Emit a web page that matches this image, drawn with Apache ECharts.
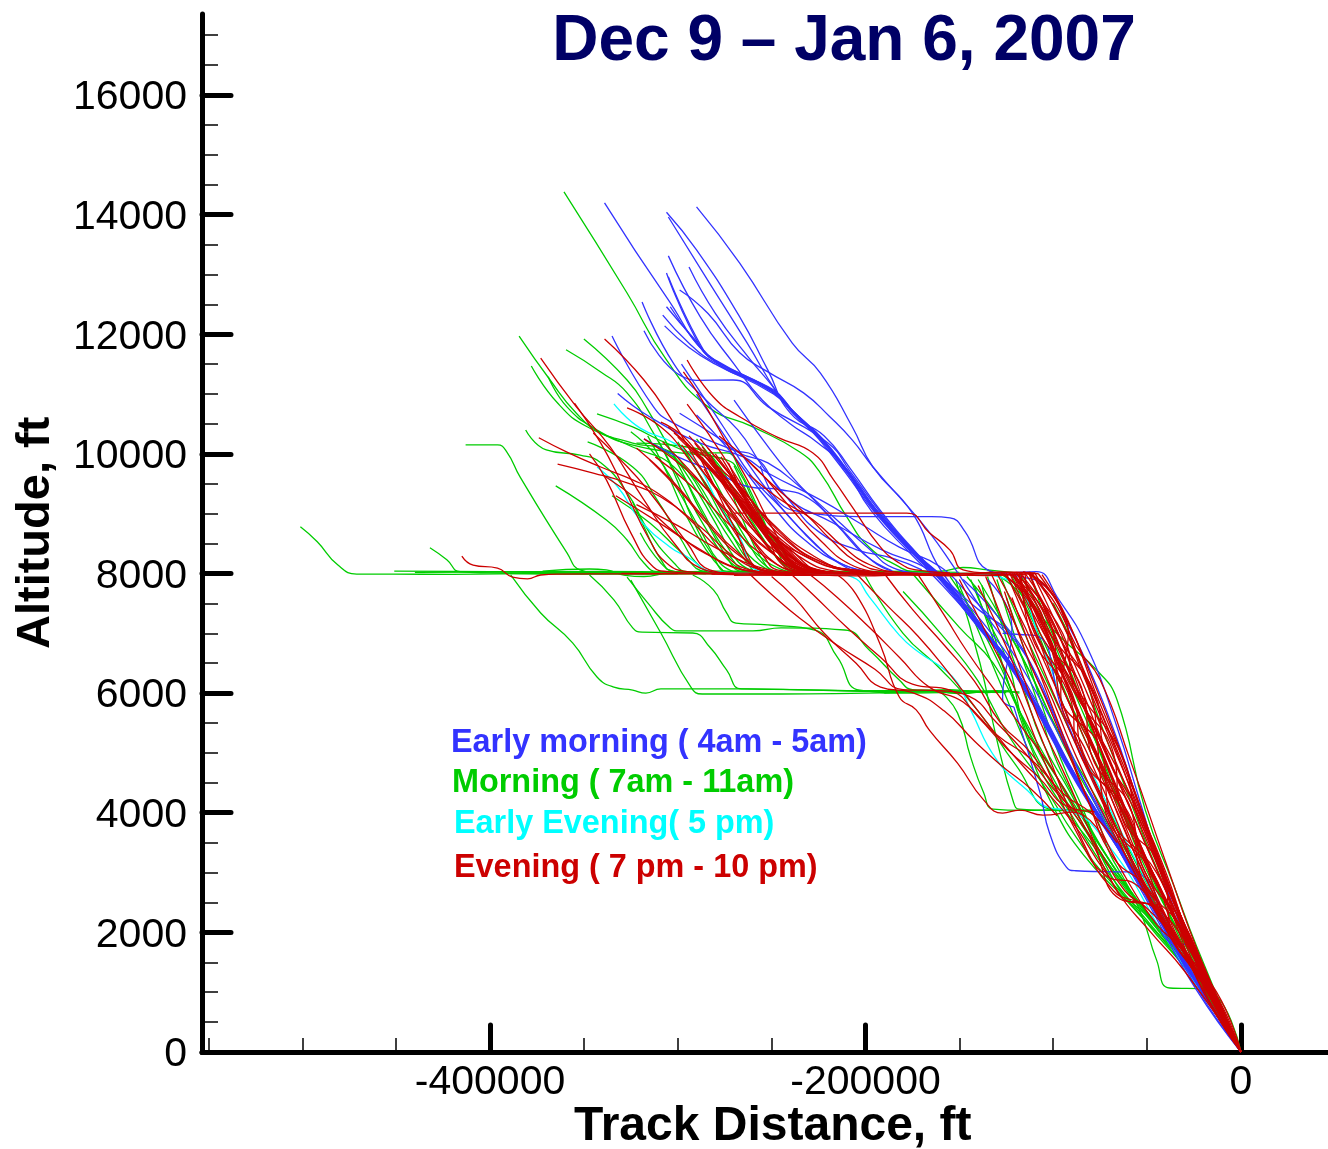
<!DOCTYPE html>
<html><head><meta charset="utf-8">
<style>html,body{margin:0;padding:0;background:#fff}#c{width:1328px;height:1149px}</style>
<script src="https://cdn.jsdelivr.net/npm/echarts@6/dist/echarts.min.js"></script>
</head><body><div id="c"></div>
<script>
// tracks: [distance in thousands of ft, altitude in ft]
const xMajorTicks=[-400000,-200000,0];
const xMinorTicks=[-550000,-500000,-450000,-350000,-300000,-250000,-150000,-100000,-50000];
const yMajorTicks=[0,2000,4000,6000,8000,10000,12000,14000,16000];
const yMinorTicks=[500,1000,1500,2500,3000,3500,4500,5000,5500,6500,7000,7500,8500,9000,9500,10500,11000,11500,12500,13000,13500,14500,15000,15500,16500,17000];
const legendLabels=["Early morning ( 4am - 5am)","Morning ( 7am - 11am)","Early Evening( 5 pm)","Evening ( 7 pm - 10 pm)"];

const blueTracks=[
[[-339,14195],[-306,12620],[-281,11570],[-249,11070],[-239,10730],[-224,10280],[-210,9730],[-194,9060],[-171,8280],[-159,7940],[-139,7140],[-119,6340],[-86,4500],[-57.5,3040],[-32.5,1620],[0,0]],
[[-290,14130],[-267,13190],[-239,11850],[-224,11350],[-207,10450],[-196,9780],[-175,9010],[-160,8060],[-138,7200],[-117,6300],[-85,4450],[-56,3000],[-31,1600],[0,0]],
[[-306,14040],[-290,13410],[-267,12290],[-252,11400],[-240,10680],[-222,10300],[-208,9750],[-192,9050],[-170,8250],[-158,7900],[-137,7080],[-118,6260],[-84,4400],[-58,3050],[-32,1580],[0,0]],
[[-305,13960],[-284,12900],[-263,11850],[-247,11020],[-238,10700],[-223,10260],[-209,9700],[-193,9000],[-169,8200],[-156,7820],[-136,7020],[-116,6180],[-87,4480],[-56,2980],[-30,1520],[0,0]],
[[-306,13025],[-288,11790],[-279,11550],[-250,11060],[-238,10690],[-225,10250],[-211,9700],[-195,9020],[-172,8240],[-160,7900],[-140,7120],[-120,6300],[-86,4440],[-57,3000],[-32,1580],[0,0]],
[[-305,12960],[-286,11720],[-278,11520],[-248,11030],[-237,10650],[-223,10220],[-209,9670],[-193,8980],[-170,8200],[-158,7860],[-138,7060],[-118,6240],[-85,4380],[-58,3020],[-33,1620],[0,0]],
[[-305,13310],[-288,12290],[-270,11500],[-255,10900],[-240,10500],[-226,10200],[-212,9800],[-197,9050],[-175,8300],[-162,7900],[-141,7160],[-121,6360],[-88,4560],[-59,3060],[-33,1640],[0,0]],
[[-294,13125],[-280,12350],[-262,11600],[-250,11150],[-238,10660],[-222,10180],[-207,9620],[-191,8930],[-168,8120],[-155,7750],[-135,7000],[-115,6120],[-83,4320],[-55,2940],[-30,1500],[0,0]],
[[-299,12740],[-284,12350],[-267,11690],[-252,11370],[-233,11020],[-219,10620],[-207,10230],[-196,9780],[-182,9280],[-167,8730],[-153,8110],[-138,7400],[-118,6500],[-90,4900],[-60,3200],[-34,1700],[0,0]],
[[-306,12460],[-292,11950],[-280,11560],[-250,11060],[-239,10720],[-224,10270],[-210,9720],[-194,9040],[-171,8260],[-159,7920],[-139,7120],[-119,6320],[-86,4480],[-57,3020],[-32,1600],[0,0]],
[[-304,12460],[-290,11850],[-279,11530],[-249,11040],[-238,10680],[-223,10230],[-209,9680],[-193,9000],[-170,8220],[-158,7880],[-138,7080],[-118,6280],[-85,4420],[-56,2980],[-31,1560],[0,0]],
[[-308,12320],[-294,11850],[-281,11540],[-250,11040],[-239,10700],[-224,10240],[-210,9690],[-194,9020],[-171,8230],[-160,7880],[-140,7100],[-120,6290],[-87,4460],[-58,3020],[-32,1590],[0,0]],
[[-307,12140],[-294,11780],[-280,11500],[-249,11000],[-238,10660],[-223,10210],[-209,9660],[-193,8970],[-170,8190],[-158,7850],[-137,7040],[-117,6220],[-84,4360],[-56,2960],[-31,1540],[0,0]],
[[-319,12540],[-302,11500],[-285,10900],[-268,10400],[-255,9800],[-240,9200],[-225,8700],[-205,8400],[-185,8250],[-170,8060]],
[[-318,12060],[-290,11230],[-270.5,11235],[-252,10790],[-220,10180],[-208,9700],[-192,9020],[-170,8220],[-158,7880]],
[[-335,11970],[-313,10790],[-302,10510],[-270,10060],[-260,9980],[-242,9280],[-217,8840],[-191,8390],[-166,8060],[-140,7400],[-122,6950],[-105,6000],[-92,5000]],
[[-332,11010],[-315,10620],[-288,10180],[-265,9950],[-252,9680],[-224,9230],[-203,8840],[-182,8440],[-160,8110],[-145,7650],[-125,7000]],
[[-299,10680],[-279,10280],[-267,10010],[-252,9850],[-235,9450],[-217,8945],[-199,8440],[-185,8090],[-170,8000]],
[[-318,10250],[-300,9950],[-280,9700],[-262,9450],[-245,9400],[-230,9250],[-215,8800],[-200,8300],[-186,8050]],
[[-290,11000],[-275,10300],[-260,9600],[-245,9100],[-230,8600],[-215,8200],[-200,8040]],
[[-298,11500],[-283,10800],[-265,9950],[-250,9300],[-235,8750],[-220,8300],[-207,8050]],
[[-270,10900],[-255,10250],[-240,9650],[-225,9150],[-210,8650],[-196,8200],[-185,8030]],
[[-290,10650],[-275,10150],[-250,9150],[-232,8550],[-212,8150],[-196,8020]],
[[-256,9800],[-238,9050],[-192,8950],[-165,8950],[-155,8930],[-147,8700],[-135,8060],[-125,8010],[-109,8030],[-98,7610],[-82,6770],[-66,5430],[-54,4210],[-38,2600],[-18,1100],[0,0]],
[[-134,8020],[-118,7950],[-104,7780],[-93,7200],[-78,6200],[-64,5050],[-50,3700],[-34,2350],[-16,1000],[0,0]],
[[-121,5770],[-107,4330],[-102,3660],[-93,3090],[-88,3030],[-74,3015],[-59,3010],[-31,1500],[0,0]],
[[-135,7900],[-122,7100],[-127,5900],[-121,5770]],
[[-127,7000],[-118,6980],[-108,6950],[-95,5700],[-75,4300],[-50,2700],[-26,1200],[0,0]],
[[-148,7900],[-130,7300],[-112,6500],[-92,5100],[-72,3800],[-47,2350],[-24,1050],[0,0]],
[[-43,2050],[-35,1800],[-28,1800],[-20,1200],[0,0]]
];

const greenTracks=[
[[-360.6,14380],[-327,12690],[-306,11570],[-284,10790],[-260,10450],[-235,10030],[-224,9680],[-210,8945],[-198,8440],[-182,8110],[-175,8030],[-150,8000],[-132,8000],[-118,7600],[-100,6400],[-78,5000],[-55,3500],[-28,1600],[0,0]],
[[-384.5,11970],[-368,11235],[-354,10680],[-341,10350],[-320,10115],[-302,10030],[-274,9900],[-267,9680],[-260,9230],[-247,8440],[-235,8060],[-220,8010]],
[[-378,11470],[-364,10850],[-348,10450],[-324,10180],[-306,10065],[-295,9730],[-281,9010],[-263,8175],[-256,8010],[-235,8000]],
[[-369,11290],[-359,10785],[-343,10400],[-324,10115],[-302,9780],[-288,9060],[-274,8280],[-265,8030],[-245,8010]],
[[-350,11920],[-327,11235],[-316,10735],[-302,9950],[-288,9115],[-272,8280],[-261,8030],[-240,8000]],
[[-359.5,11740],[-341,11370],[-327,11020],[-313,10350],[-302,9680],[-292,8895],[-281,8280],[-274,8030],[-255,8000]],
[[-343,10670],[-324,10450],[-306,10180],[-288,10015],[-274,10015],[-267,9730],[-256,9010],[-245.5,8280],[-239,8030],[-220,8010]],
[[-381,10400],[-370,10065],[-352,9980],[-341,9850],[-327,9350],[-315,8680],[-302,8175],[-295,8030],[-275,8000]],
[[-413,10150],[-396,10150],[-391,10030],[-384,9615],[-359,8345],[-352,8060],[-341,8010],[-318,8000]],
[[-365,9465],[-338,8895],[-327,8560],[-318,8175],[-311,8030],[-290,8000]],
[[-348,10200],[-324,9780],[-311,9230],[-299,8610],[-288,8110],[-278,8000]],
[[-325,10370],[-311,9950],[-300,9400],[-288,8730],[-277.5,8175],[-268,8010]],
[[-324,9195],[-318,8780],[-309,8230],[-302,8030],[-285,8000]],
[[-320,8680],[-309,8175],[-301,8030],[-285,8000]],
[[-322,10180],[-295,10115],[-279,9850],[-267,9010],[-255,8230],[-247,8030],[-230,8000]],
[[-312,10150],[-294,9700],[-278,8950],[-262,8300],[-250,8030]],
[[-300,10200],[-285,9500],[-270,8800],[-255,8250],[-240,8020]],
[[-335,9300],[-315,8850],[-298,8350],[-285,8030],[-268,8000]],
[[-290,10250],[-272,9500],[-257,8700],[-243,8150],[-232,8010]],
[[-282,9900],[-268,9200],[-254,8550],[-240,8080],[-228,8000]],
[[-270,9800],[-258,9050],[-246,8450],[-234,8060],[-222,8000]],
[[-316,10300],[-306,9700],[-296,9000],[-285,8400],[-276,8050]],
[[-310,10200],[-298,9500],[-286,8800],[-274,8250],[-264,8030]],
[[-305,10100],[-293,9550],[-280,8850],[-268,8200],[-258,8030]],
[[-296,10050],[-284,9400],[-272,8700],[-260,8150],[-250,8020]],
[[-287,9950],[-276,9300],[-264,8600],[-252,8100],[-242,8010]],
[[-501,8780],[-492,8530],[-481,8140],[-471,7990],[-452,7990],[-420,7985],[-370,8000],[-330,7990],[-280,8000]],
[[-451,8040],[-420,8035],[-380,8030],[-340,8035],[-300,8025],[-270,8030]],
[[-440,8020],[-400,8025],[-360,8015],[-320,8020],[-280,8015],[-230,8025],[-190,8015]],
[[-380,8010],[-345,8000],[-300,8010],[-260,8040],[-220,8035],[-180,8030],[-150,8020]],
[[-432,8430],[-423,8230],[-416,8030],[-400,8010],[-360,7990],[-320,8010],[-280,8000]],
[[-372,8040],[-347,8075],[-338,8060],[-328,7970],[-318,7950],[-305,8010],[-280,8040],[-240,8020],[-200,8030],[-170,8040],[-160,8040],[-148,8100],[-135,8060],[-120,8010]],
[[-389,7975],[-373,7340],[-356,6840],[-343,6270],[-334,6100],[-324,6050],[-317,6000],[-309,6070],[-263,6070],[-230,6050],[-190,6030],[-150,6030],[-118,6020]],
[[-347,7975],[-334,7560],[-324,7090],[-319,7020],[-292,7005],[-283,6770],[-274,6390],[-266,6070],[-235,6060],[-200,6040],[-160,6040],[-122,6030]],
[[-327,7940],[-316,7510],[-304,7090],[-299,7040],[-260,7040],[-245,7090],[-211,7055],[-198,6720],[-182,6220],[-175,6060],[-150,6020],[-128,6020]],
[[-325,7890],[-309,7005],[-293,6100],[-287,5985],[-245,5985],[-200,6000],[-160,6020],[-125,6010]],
[[-292,7975],[-281,7725],[-274,7340],[-269,7170],[-252,7140],[-227,7055],[-215,6600],[-203,6050],[-175,6000],[-145,6030]],
[[-190,6000],[-170,6050],[-150,5990],[-130,6040],[-118,6000]],
[[-180,6030],[-155,6060],[-135,6010],[-122,6050]],
[[-160,6020],[-151,5670],[-144,4930],[-137,4330],[-132,4060],[-115,4040],[-95,4050],[-79,4045]],
[[-152,7900],[-139,6500],[-130,5215],[-121,4160],[-118,4060],[-100,4040],[-80,4030]],
[[-200,7950],[-180,7000],[-160,6400],[-140,5700],[-120,4800],[-100,4050],[-84,4030],[-68,3200],[-54,2375],[-45,1540],[-38,1070],[-20,1055],[0,0]],
[[-135,8060],[-122,7800],[-110,7400],[-95,6900],[-77,6390],[-66,5885],[-51,4046],[-36,2800],[-23.5,1755],[0,0]],
[[-146,7950],[-130,7300],[-115,6500],[-98,5400],[-78,4300],[-55,3000],[-30,1600],[0,0]],
[[-140,7900],[-125,7100],[-110,6200],[-94,5100],[-74,3950],[-52,2800],[-28,1500],[0,0]],
[[-155,7950],[-142,7300],[-126,6300],[-112,5300],[-92,4300],[-68,3100],[-42,2000],[-16,950],[0,0]],
[[-128,7950],[-116,7050],[-102,6100],[-84,4900],[-64,3650],[-44,2450],[-22,1150],[0,0]],
[[-138,7800],[-130,6800],[-118,5700],[-104,4800],[-86,3850],[-66,2950],[-40,1950],[-16,950],[0,0]],
[[-122,7950],[-110,7200],[-96,6200],[-80,5000],[-60,3800],[-42,2550],[-20,1250],[0,0]],
[[-175,8000],[-150,7100],[-132,6500],[-118,5700],[-100,4700],[-84,3800],[-60,2700],[-33,1700],[-13,800],[0,0]],
[[-180,7700],[-160,7000],[-140,6200],[-124,5300],[-106,4500],[-88,3600],[-68,2800],[-38,1900],[-14,850],[0,0]],
[[-100,7500],[-88,6700],[-76,5600],[-62,4450],[-48,3300],[-30,2000],[-14,950],[0,0]],
[[-118,8010],[-104,7150],[-88,5950],[-72,4800],[-55,3500],[-36,2250],[-16,1050],[0,0]],
[[-135,7950],[-126,7000],[-116,6100],[-106,5200],[-92,4400],[-76,3500],[-52,2400],[-26,1300],[0,0]],
[[-130,7900],[-120,6900],[-110,6000],[-100,5000],[-86,4100],[-70,3200],[-48,2200],[-24,1200],[0,0]],
[[-142,7800],[-132,6900],[-122,6000],[-110,4950],[-96,4150],[-80,3500],[-56,2500],[-30,1450],[0,0]],
[[-125,7600],[-114,6600],[-106,5800],[-96,4900],[-84,4050],[-70,3000],[-50,2150],[-26,1250],[0,0]],
[[-150,7800],[-138,6900],[-126,6000],[-114,5100],[-100,4100],[-84,3300],[-60,2500],[-32,1500],[0,0]],
[[-112,7950],[-102,7100],[-90,6300],[-78,5250],[-66,4250],[-52,3150],[-34,2050],[-16,950],[0,0]],
[[-144,7900],[-136,7300],[-124,6500],[-116,5500],[-104,4650],[-90,3950],[-72,3050],[-46,2050],[-20,1100],[0,0]]
];

const cyanTracks=[
[[-334,10835],[-320,10430],[-302,10180],[-290,9850],[-277.5,9115],[-267,8610],[-258,8060],[-240,8000],[-220,8000],[-207,7940],[-198,7610],[-182,6970],[-171,6670],[-159,6420],[-151,6170],[-144,5720],[-130,4880],[-114,4380],[-102,4080],[-93,4045],[-70,3430],[-40,1900],[0,0]],
[[-343,9780],[-332,9450],[-320,8895],[-304,8440],[-295,8280],[-281,8030],[-260,8000],[-200,8000],[-150,8000],[-125,7900],[-105,6700],[-90,5400],[-72,4200],[-52,2950],[-28,1450],[0,0]]
];

const redTracks=[
[[-373,11600],[-354,10785],[-336,10115],[-318,9230],[-302,8510],[-288,8090],[-275,8010]],
[[-339,11920],[-318,11235],[-302,10510],[-286,9680],[-270,9010],[-254,8280],[-247,8060],[-232,8010]],
[[-295,11570],[-281,10950],[-267,10620],[-247,10280],[-228,10015],[-217,9565],[-207,9110],[-192,8440],[-182,8175],[-173,8060],[-155,8010]],
[[-297,11370],[-288,10950],[-274,10180],[-260,9395],[-249,8730],[-235,8090],[-222,8010]],
[[-295,10830],[-284,10350],[-270,9680],[-256,8945],[-242,8090],[-230,8010]],
[[-355,10850],[-341,10180],[-329,9450],[-315,8560],[-306,8175],[-295,8030],[-280,8000]],
[[-327,10770],[-309,10450],[-295,9950],[-281,9280],[-267,8560],[-255,8060],[-240,8010]],
[[-309,10530],[-295,10230],[-284,9680],[-270,8780],[-258,8090],[-245,8010]],
[[-374,10270],[-359,10030],[-341,9780],[-324,9565],[-311,9350],[-295,8945],[-277.5,8390],[-261.5,8060],[-245,8000]],
[[-364,9830],[-345,9680],[-327,9515],[-309,9280],[-288,8780],[-270,8280],[-255,8060],[-240,8000]],
[[-347,10000],[-338,9565],[-325,8680],[-313,8110],[-305,8030],[-290,8000]],
[[-345,10350],[-332,9950],[-316,9400],[-295,8510],[-283,8060],[-270,8000]],
[[-270,9010],[-230,9010],[-178,9010],[-166,8680],[-155,8390],[-148,8060],[-135,8010]],
[[-415,8290],[-409,8140],[-396,8090],[-388,7940],[-380,7910],[-373,7975],[-363,7990],[-330,7995],[-300,8000]],
[[-318,10250],[-296,9750],[-272,9000],[-250,8350],[-234,8040],[-215,8000]],
[[-305,10450],[-286,9900],[-265,9150],[-240,8400],[-222,8030],[-205,8000]],
[[-300,10280],[-280,9650],[-258,8900],[-236,8300],[-216,8040],[-200,8000]],
[[-296,10200],[-276,9500],[-256,8800],[-230,8250],[-210,8050],[-195,8000]],
[[-292,10100],[-272,9600],[-250,8850],[-228,8300],[-206,8040],[-190,8000]],
[[-290,10000],[-270,9350],[-248,8650],[-226,8200],[-204,8030],[-190,8000]],
[[-288,10250],[-268,9500],[-246,8700],[-224,8200],[-200,8040],[-185,8000]],
[[-284,10100],[-264,9350],[-244,8600],[-220,8150],[-198,8030],[-185,8000]],
[[-312,9950],[-294,9500],[-272,8800],[-252,8250],[-235,8030],[-218,8000]],
[[-308,10200],[-290,9600],[-270,8900],[-248,8300],[-232,8040],[-215,8000]],
[[-302,10350],[-283,9800],[-265,9100],[-247,8450],[-230,8060],[-212,8000]],
[[-298,10150],[-280,9450],[-262,8800],[-244,8280],[-228,8040],[-210,8000]],
[[-294,10300],[-277,9700],[-261,9050],[-243,8450],[-226,8070],[-208,8000]],
[[-291,10180],[-274,9500],[-258,8850],[-240,8300],[-224,8040],[-205,8000]],
[[-287,10120],[-271,9420],[-255,8750],[-238,8230],[-221,8030],[-205,8000]],
[[-285,9950],[-268,9350],[-252,8700],[-236,8200],[-219,8020],[-200,8000]],
[[-282,9850],[-266,9150],[-250,8520],[-234,8120],[-217,8010],[-200,8000]],
[[-280,10000],[-264,9300],[-248,8550],[-232,8100],[-215,8010],[-198,8000]],
[[-277,9950],[-262,9200],[-246,8500],[-230,8090],[-213,8010],[-195,8000]],
[[-274,9750],[-259,9000],[-244,8450],[-228,8080],[-211,8000]],
[[-272,9600],[-256,8900],[-241,8350],[-226,8060],[-208,8000]],
[[-281,9800],[-269,9250],[-256,8620],[-243,8180],[-227,8010]],
[[-279,9650],[-267,9050],[-253,8480],[-240,8120],[-224,8020]],
[[-276,9820],[-265,9320],[-251,8600],[-238,8150],[-222,8010]],
[[-273,9850],[-262,9100],[-249,8440],[-236,8090],[-220,8000]],
[[-270,9650],[-260,9000],[-247,8380],[-233,8060],[-218,8010]],
[[-268,9500],[-257,8850],[-244,8300],[-231,8040],[-216,8000]],
[[-283,10000],[-272,9400],[-259,8750],[-246,8250],[-233,8030]],
[[-286,9750],[-274,9150],[-261,8600],[-247,8150],[-236,8020]],
[[-340,9650],[-320,9200],[-300,8650],[-280,8250],[-260,8040],[-240,8000]],
[[-333,9300],[-310,8850],[-288,8400],[-268,8080],[-250,8000]],
[[-322,9150],[-300,8800],[-278,8400],[-256,8100],[-235,8000]],
[[-315,9900],[-298,9350],[-282,8750],[-265,8250],[-250,8020],[-232,8000]],
[[-322,10100],[-303,9550],[-285,8900],[-268,8350],[-252,8040],[-236,8000]],
[[-268,10050],[-250,9500],[-232,9000],[-218,8550],[-205,8200],[-190,8040],[-172,8000]],
[[-262,9650],[-246,9250],[-228,8900],[-212,8450],[-198,8150],[-182,8020],[-165,8000]],
[[-278,10300],[-258,9750],[-240,9100],[-224,8550],[-208,8150],[-192,8020]],
[[-330,8000],[-260,7990],[-220,8010],[-180,7985],[-150,8000],[-125,8010],[-112,8020]],
[[-282,7990],[-240,7970],[-200,7980],[-160,7970],[-130,7980],[-108,8000]],
[[-278,8010],[-245,8000],[-205,7960],[-165,7990],[-135,7965],[-115,7990]],
[[-270,7970],[-235,7990],[-190,8005],[-155,7960],[-128,8025],[-110,8010]],
[[-262,8000],[-250,7650],[-235,7250],[-215,6800],[-195,6400],[-180,6060],[-160,6040],[-145,5950],[-130,5500],[-115,5000],[-100,4400],[-88,4020]],
[[-240,8000],[-228,7650],[-210,7100],[-192,6600],[-175,6150],[-155,6050],[-140,5600],[-124,5050],[-108,4600],[-92,4100],[-78,4020]],
[[-230,7990],[-215,7600],[-198,7100],[-182,6600],[-166,6100],[-148,5850],[-130,5300],[-112,4900],[-94,4300],[-80,4000],[-66,3500]],
[[-215,7980],[-205,7650],[-192,6800],[-182,5935],[-173,5720],[-166,5380],[-151,4830],[-137,4210],[-127,3995],[-118,4045],[-105.5,3960],[-89.5,4010],[-72,3500]],
[[-250,7950],[-238,7600],[-222,7000],[-205,6500],[-192,6100],[-175,6010],[-158,5700],[-142,5200],[-128,4800],[-112,4400],[-98,3950]],
[[-205,8000],[-188,7450],[-172,6950],[-156,6350],[-140,5700],[-125,5100],[-108,4500],[-90,3850],[-72,3000],[-58,2500],[-48,2480],[-35,1900],[0,0]],
[[-190,8000],[-175,7400],[-158,6800],[-142,6200],[-128,5500],[-112,5000],[-94,4200],[-78,3500],[-62,2700],[-50,2400],[-34,1850],[-12,750],[0,0]],
[[-172,7980],[-158,7300],[-146,6700],[-130,6000],[-116,5400],[-100,4700],[-84,3800],[-66,2700],[-48,2000],[-30,1350],[0,0]],
[[-128,8010],[-112,7560],[-102,6900],[-90,5885],[-75,4800],[-58,3500],[-44,2540],[-22,1150],[0,0]],
[[-127,8010],[-110,7400],[-98,6500],[-84,5500],[-68,4350],[-51,3150],[-34,2200],[-16,950],[0,0]],
[[-124,8020],[-108,7440],[-102,6890],[-82,5670],[-57.5,4210],[-34,2425],[-16,1150],[0,0]],
[[-122,8000],[-107,7220],[-92,6200],[-80,5550],[-66,4600],[-54,3880],[-36,2500],[-18,1200],[0,0]],
[[-120,8020],[-106,7400],[-92,6400],[-78,5400],[-63,4350],[-47,3200],[-30,2000],[-14,950],[0,0]],
[[-118,8010],[-103,7350],[-88,6300],[-74,5200],[-60,4150],[-45,3050],[-28,1900],[-13,900],[0,0]],
[[-116,8030],[-102,7725],[-88,6800],[-75,6220],[-59,4880],[-40.5,3210],[-22,1600],[0,0]],
[[-114,8020],[-99,7500],[-86,6550],[-72,5500],[-57,4350],[-42,3100],[-26,1800],[-12,850],[0,0]],
[[-112,8010],[-97,7300],[-84,6300],[-70,5250],[-56,4200],[-42,3050],[-25,1750],[-11,780],[0,0]],
[[-130,8000],[-115,7100],[-100,6000],[-86,5000],[-72,4050],[-56,2950],[-36,1950],[-14,850],[0,0]],
[[-133,7990],[-118,7000],[-104,6150],[-90,5100],[-76,4150],[-60,3200],[-40,2050],[-15,900],[0,0]],
[[-126,8000],[-112,7200],[-98,6050],[-84,4950],[-70,4000],[-54,2900],[-34,1850],[-13,800],[0,0]],
[[-125,8010],[-110,6900],[-96,5900],[-82,4800],[-66,3700],[-50,2750],[-32,1750],[-12,750],[0,0]],
[[-123,7990],[-109,7000],[-96,6150],[-80,5000],[-65,3950],[-50,2850],[-32,1800],[-13,820],[0,0]],
[[-121,8010],[-105,7150],[-92,6100],[-78,5050],[-62,3950],[-46,2900],[-30,1900],[-14,880],[0,0]],
[[-119,8000],[-104,6950],[-90,5950],[-76,4950],[-60,3900],[-45,2800],[-28,1800],[-13,850],[0,0]],
[[-117,8020],[-103,7100],[-88,6100],[-74,5000],[-58,3800],[-44,2800],[-27,1780],[-12,800],[0,0]],
[[-115,8000],[-101,7250],[-86,6050],[-73,4900],[-58,3750],[-43,2750],[-26,1700],[-12,780],[0,0]],
[[-113,8030],[-100,7050],[-85,5850],[-71,4800],[-56,3650],[-42,2650],[-26,1650],[-12,760],[0,0]],
[[-111,8000],[-96,7000],[-82,6000],[-68,4950],[-54,3900],[-40,2800],[-24,1700],[-11,780],[0,0]],
[[-110,8020],[-95,7150],[-81,6150],[-66,5000],[-52,3800],[-38,2700],[-23,1650],[-10,720],[0,0]],
[[-108,8000],[-94,7300],[-80,6300],[-65,5100],[-50,3750],[-37,2650],[-22,1550],[-10,720],[0,0]],
[[-106,7980],[-92,7200],[-78,6050],[-63,4900],[-49,3700],[-36,2600],[-22,1500],[-10,700],[0,0]],
[[-126,7700],[-115,6700],[-104,5900],[-92,5000],[-78,3950],[-62,2950],[-44,2100],[-34,1800],[-16,1000],[0,0]],
[[-136,7950],[-122,6800],[-108,5600],[-94,4650],[-80,3650],[-64,2550],[-50,2480],[-34,1750],[-12,720],[0,0]],
[[-140,7800],[-124,6700],[-112,5700],[-100,4750],[-84,3500],[-68,2700],[-56,2520],[-44,2400],[-18,1150],[0,0]],
[[-150,7900],[-134,6900],[-118,5900],[-104,4800],[-88,3700],[-72,2950],[-56,2800],[-40,2100],[-16,950],[0,0]],
[[-122,7600],[-108,6400],[-96,5400],[-82,4250],[-68,3250],[-50,2750],[-34,1900],[-13,800],[0,0]],
[[-121,8000],[-104,7000],[-94,6000],[-78,5000],[-66,4000],[-52,3000],[-36,2000],[-18,1000],[0,0]],
[[-118,8000],[-110,7000],[-90,6000],[-84,5000],[-62,4000],[-49,3000],[-39,2000],[-16,1000],[0,0]],
[[-123,8000],[-100,7000],[-97,6000],[-74,5000],[-70,4000],[-45,3000],[-33,2000],[-20,1000],[0,0]],
[[-115,8000],[-107,7000],[-84,6000],[-80,5000],[-58,4000],[-54,3000],[-30,2000],[-17,1000],[0,0]],
[[-120,8000],[-95,7000],[-88,6000],[-68,5000],[-64,4000],[-41,3000],[-37,2000],[-14,1000],[0,0]],
[[-117,8000],[-112,7000],[-92,6000],[-86,5000],[-60,4000],[-51,3000],[-28,2000],[-19,1000],[0,0]],
[[-113,8000],[-98,7000],[-80,6000],[-76,5000],[-72,4000],[-47,3000],[-35,2000],[-15,1000],[0,0]],
[[-122,8000],[-105,7000],[-86,6000],[-64,5000],[-56,4000],[-43,3000],[-32,2000],[-18,1000],[0,0]],
[[-112,8000],[-92,7000],[-96,6000],[-82,5000],[-68,4000],[-55,3000],[-38,2000],[-13,1000],[0,0]],
[[-119,8000],[-102,7000],[-78,6000],[-72,5000],[-54,4000],[-40,3000],[-29,2000],[-16,1000],[0,0]]
];

const greenColor='#00cc00',blueColor='#3333ff',cyanColor='#00ffff',redColor='#cc0000',navy='#000066';
const xMin=-553400,xMax=46340,yMin=0,yMax=17354;

function lines(name,tracks,color){
  return tracks.map(function(t){return {
    name:name,type:'line',xAxisIndex:0,yAxisIndex:0,showSymbol:false,silent:true,smooth:0.5,
    clip:true,lineStyle:{color:color,width:1.3},itemStyle:{color:color},
    data:t.map(function(p){return [p[0]*1000,p[1]];})
  };});
}
const labelFont={fontFamily:'"Liberation Sans",Arial,sans-serif',fontSize:41,color:'#000'};
function xAxisOf(values,len,w,main){return {type:'value',min:xMin,max:xMax,position:'bottom',splitLine:{show:false},
  axisLine:{show:main,onZero:false,lineStyle:{color:'#000',width:5,cap:'round'}},
  axisTick:{show:true,inside:true,length:len,customValues:values,lineStyle:{color:'#000',width:w,cap:main?'round':'butt'}},
  axisLabel:main?Object.assign({show:true,margin:10,customValues:values,formatter:function(v){return String(v);}},labelFont):{show:false}};}
function yAxisOf(values,len,w,main){return {type:'value',min:yMin,max:yMax,position:'left',splitLine:{show:false},
  axisLine:{show:main,onZero:false,lineStyle:{color:'#000',width:5,cap:'round'}},
  axisTick:{show:true,inside:true,length:len,customValues:values,lineStyle:{color:'#000',width:w,cap:main?'round':'butt'}},
  axisLabel:main?Object.assign({show:true,margin:15,verticalAlign:'top',lineHeight:6,customValues:values,formatter:function(v){return String(v);}},labelFont):{show:false}};}

const legendY=[745,785,826,870],legendX=[451,452,454,454],legendColors=[blueColor,greenColor,cyanColor,redColor];
const chart=echarts.init(document.getElementById('c'),null,{renderer:'canvas'});
chart.setOption({
  animation:false,backgroundColor:'#fff',
  title:{text:'Dec 9 \u2013 Jan 6, 2007',left:839,top:5,textAlign:'center',
    textStyle:{fontFamily:'"Liberation Sans",Arial,sans-serif',fontWeight:'bold',fontSize:64,color:navy}},
  grid:{left:202,right:0,top:14,bottom:97,containLabel:false},
  xAxis:[xAxisOf(xMajorTicks,27,5,true),xAxisOf(xMinorTicks,14,1.5,false)],
  yAxis:[yAxisOf(yMajorTicks,29,5,true),yAxisOf(yMinorTicks,16,1.5,false)],
  series:[].concat(lines('Morning',greenTracks,greenColor),lines('Early Evening',cyanTracks,cyanColor),lines('Early morning',blueTracks,blueColor),lines('Evening',redTracks,redColor)),
  graphic:[
    {type:'text',left:574,top:1103,style:{text:'Track Distance, ft',font:'bold 48px "Liberation Sans",Arial,sans-serif',fill:'#000'}},
    {type:'text',rotation:Math.PI/2,x:13,y:649,style:{text:'Altitude, ft',font:'bold 47px "Liberation Sans",Arial,sans-serif',fill:'#000'}}
  ].concat(legendLabels.map(function(s,i){return {type:'text',left:legendX[i],top:legendY[i]-18,
    style:{text:s,font:'bold 32.4px "Liberation Sans",Arial,sans-serif',fill:legendColors[i]}};}))
});
</script></body></html>
